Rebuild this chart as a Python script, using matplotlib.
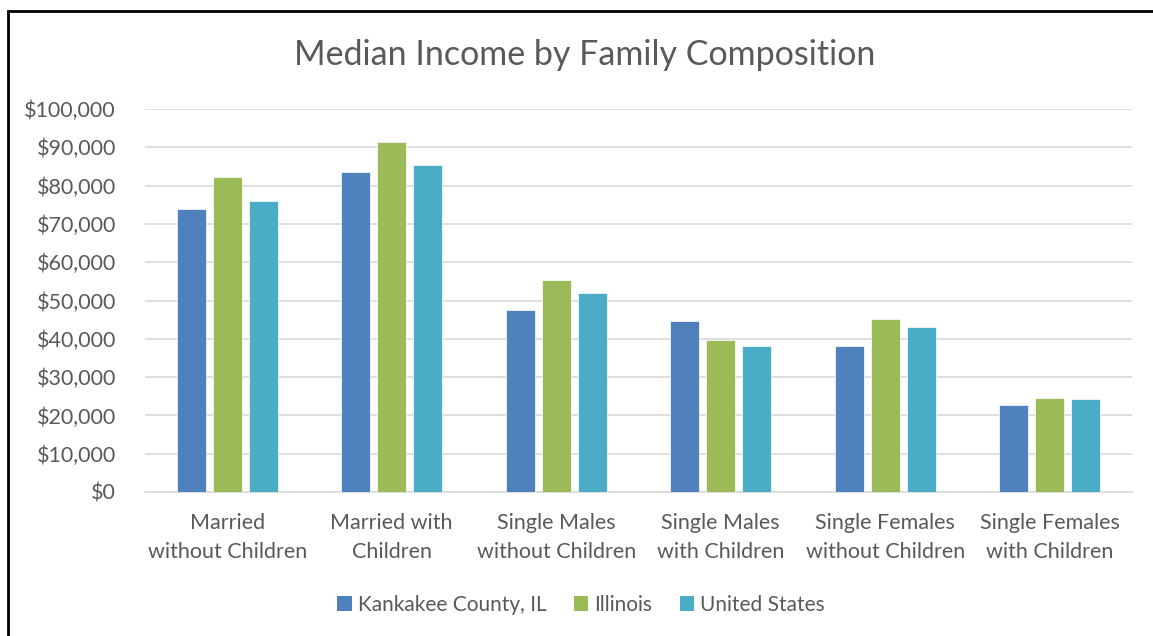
import numpy as np
import matplotlib.pyplot as plt
from matplotlib.patches import Patch, Rectangle
from matplotlib.ticker import FuncFormatter

# values
categories = ['Married\nwithout Children', 'Married with\nChildren',
              'Single Males\nwithout Children', 'Single Males\nwith Children',
              'Single Females\nwithout Children', 'Single Females\nwith Children']
series_names = ['Kankakee County, IL', 'Illinois', 'United States']
kankakee = [73900, 83500, 47400, 44600, 38100, 22600]
illinois = [82300, 91300, 55300, 39600, 45300, 24600]
united_states = [76000, 85300, 51900, 38000, 43200, 24400]
colors = ['#4F81BD', '#9BBB59', '#4BACC6']

plt.rcParams['font.family'] = ['Lato', 'DejaVu Sans']
text_color = '#595959'

fig = plt.figure(figsize=(11.53, 6.36), dpi=100)
ax = fig.add_axes([145/1153, 1 - 492/636, (1132 - 145)/1153, (492 - 109)/636])

x = np.arange(len(categories))
width = 0.178
step = 0.219
for i, (vals, col) in enumerate(zip([kankakee, illinois, united_states], colors)):
    ax.bar(x + (i - 1) * step, vals, width, color=col, edgecolor='white',
           linewidth=0.5, zorder=3)

ax.set_xlim(-0.5, len(categories) - 0.5)
ax.set_ylim(0, 100000)
ax.set_yticks(np.arange(0, 100001, 10000))
ax.yaxis.set_major_formatter(FuncFormatter(lambda v, p: '${:,.0f}'.format(v)))
ax.set_xticks(x)
ax.set_xticklabels(categories, linespacing=1.6)
ax.grid(axis='y', color='#D9D9D9', linewidth=1.2, zorder=0)
for s in ['top', 'right', 'left']:
    ax.spines[s].set_visible(False)
ax.spines['bottom'].set_color('#D9D9D9')
ax.spines['bottom'].set_linewidth(1.2)
ax.tick_params(axis='both', length=0, colors=text_color, labelsize=15.5)
ax.tick_params(axis='y', pad=21)
ax.tick_params(axis='x', pad=15)

fig.text(585/1153, 1 - 55/636, 'Median Income by Family Composition',
         ha='center', va='center', fontsize=24.5, color=text_color)

handles = [Patch(facecolor=c, edgecolor='none') for c in colors]
fig.legend(handles, series_names, loc='center', bbox_to_anchor=(581/1153, 1 - 605/636),
           ncol=3, frameon=False, fontsize=15, handlelength=0.7, handleheight=0.7,
           handletextpad=0.3, columnspacing=1.3, labelcolor=text_color)

# black frame around the chart, running off the right and bottom edges
fig.patches.append(Rectangle((8/1153, -0.1), 1.2, 1 - 11/636 + 0.1, transform=fig.transFigure,
                             fill=False, edgecolor='black', linewidth=2))

fig.savefig('out.png', dpi=100)
